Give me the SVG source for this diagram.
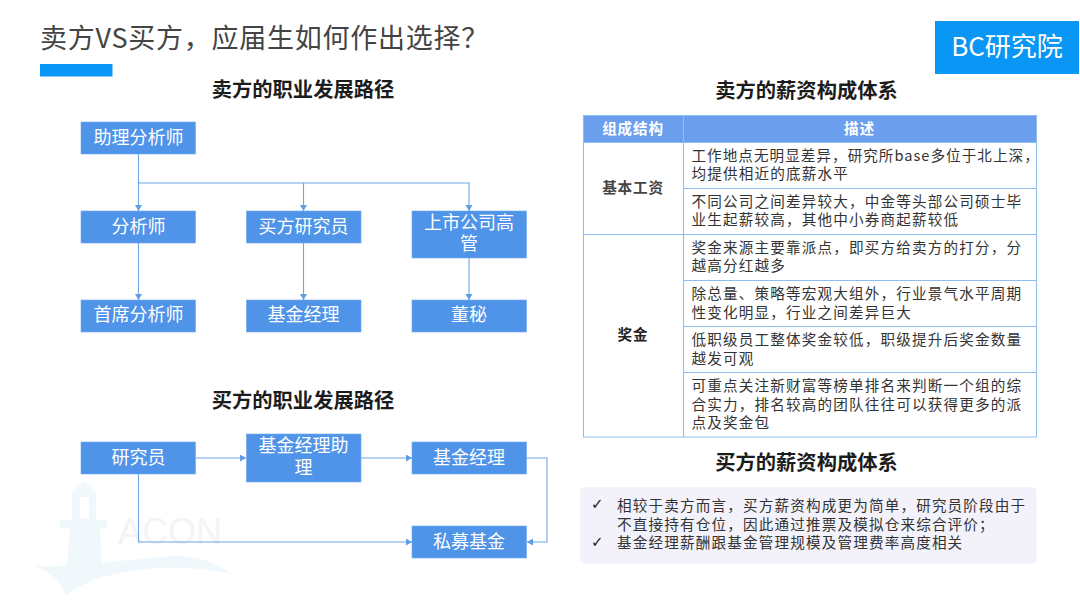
<svg xmlns="http://www.w3.org/2000/svg" width="1080" height="607" viewBox="0 0 1080 607">
<style>
text{font-family:"Noto Sans CJK SC","Noto Sans",sans-serif}
.box{fill:#4f94e8;stroke:#6fa8ea;stroke-width:.6}
.bt{font-size:18px;fill:#fff;text-anchor:middle}
.h{font-size:20.300px;font-weight:700;fill:#1c1c1c;text-anchor:middle}
.c{fill:none;stroke:#6fa6e4;stroke-width:1.1}
.t{font-size:14.6px;fill:#333;letter-spacing:1.15px}
.g{fill:none;stroke:#8fbdf0;stroke-width:1.1}
.s{font-size:14.6px;fill:#333;font-weight:700;text-anchor:middle;letter-spacing:.8px}
.wm{fill:#f1f8fc}
</style>
<defs><marker id="a" markerUnits="userSpaceOnUse" markerWidth="7" markerHeight="8" refX="6" refY="3.5" orient="auto"><path d="M0 0L6 3.5L0 7Z" fill="#5f9de4"/></marker></defs>
<rect width="1080" height="607" fill="#fff"/>
<g id="watermark">
<path class="wm" d="M35 566C90 567 150 556 178 556C200 556 220 565 232 574C195 566 160 566 120 573C95 578 78 585 66 596C62 582 50 572 35 566Z"/>
<path class="wm" d="M72 520V492L84 481L96 492V520H107V528H100L102 570H112V576H66L70 528H60V520ZM80 497V518H89V497Z"/>
<text x="118" y="544" font-size="36" fill="#f3f4f6" style="font-family:'Liberation Sans',sans-serif">ACON</text>
</g>
<g id="title">
<text x="40" y="48" font-size="27px" fill="#444" letter-spacing=".75">卖方VS买方，应届生如何作出选择？</text>
<rect x="40" y="64" width="72.500" height="12.500" fill="#0a96f5"/>
</g>
<g id="logo"><rect x="935" y="21" width="144" height="53" fill="#0a96f5"/><text x="1007" y="56" font-size="26px" fill="#fff" text-anchor="middle">BC研究院</text></g>
<text class="h" x="303" y="96.500">卖方的职业发展路径</text>
<text class="h" x="303" y="407.500">买方的职业发展路径</text>
<text class="h" x="806.500" y="97.500">卖方的薪资构成体系</text>
<text class="h" x="806.500" y="469.500">买方的薪资构成体系</text>
<g id="connectors">
<path class="c" d="M138.500 154V211" marker-end="url(#a)"/>
<path class="c" d="M138.500 183H303.500V211" marker-end="url(#a)"/>
<path class="c" d="M303.500 183H469V211" marker-end="url(#a)"/>
<path class="c" d="M138.500 243V300" marker-end="url(#a)"/>
<path class="c" d="M303.500 243V300" marker-end="url(#a)"/>
<path class="c" d="M469 258V300" marker-end="url(#a)"/>
<path class="c" d="M195.500 458H246" marker-end="url(#a)"/>
<path class="c" d="M361 458H412" marker-end="url(#a)"/>
<path class="c" d="M526 458H547V542H527" marker-end="url(#a)"/>
<path class="c" d="M138.500 474V542H412" marker-end="url(#a)"/>
</g>
<g id="n1"><rect class="box" x="81" y="122" width="114.500" height="32"/><text class="bt" x="138.500" y="144">助理分析师</text></g>
<g id="n2"><rect class="box" x="81" y="211" width="114.500" height="32"/><text class="bt" x="138.500" y="233">分析师</text></g>
<g id="n3"><rect class="box" x="246.500" y="211" width="114.500" height="32"/><text class="bt" x="303.500" y="233">买方研究员</text></g>
<g id="n4"><rect class="box" x="412" y="211" width="114.500" height="47"/><text class="bt" x="469" y="229">上市公司高</text><text class="bt" x="469" y="250">管</text></g>
<g id="n5"><rect class="box" x="81" y="300" width="114.500" height="32"/><text class="bt" x="138.500" y="321">首席分析师</text></g>
<g id="n6"><rect class="box" x="246.500" y="300" width="114.500" height="32"/><text class="bt" x="303.500" y="321">基金经理</text></g>
<g id="n7"><rect class="box" x="412" y="300" width="114.500" height="32"/><text class="bt" x="469" y="321">董秘</text></g>
<g id="n8"><rect class="box" x="81" y="442" width="114.500" height="32"/><text class="bt" x="138.500" y="464">研究员</text></g>
<g id="n9"><rect class="box" x="246.500" y="434" width="114.500" height="48"/><text class="bt" x="303.500" y="452">基金经理助</text><text class="bt" x="303.500" y="474">理</text></g>
<g id="n10"><rect class="box" x="412" y="442" width="114.500" height="32"/><text class="bt" x="469" y="464">基金经理</text></g>
<g id="n11"><rect class="box" x="412" y="526" width="114.500" height="32"/><text class="bt" x="469" y="548">私募基金</text></g>
<g id="table">
<rect x="583.500" y="115.500" width="453" height="27" fill="#6b9eec"/>
<path class="g" d="M583.500 115.500H1036.500V437H583.500ZM583.500 142.500H1036.500M683.500 115.500V437M683.500 188.500H1036.500M583.500 234.500H1036.500M683.500 280.500H1036.500M683.500 326.500H1036.500M683.500 372.500H1036.500"/>
<text class="s" x="633" y="134" style="fill:#fff">组成结构</text>
<text class="s" x="859.500" y="134" style="fill:#fff">描述</text>
<text class="s" x="633" y="193" style="fill:#444">基本工资</text>
<text class="s" x="633" y="340" style="fill:#222">奖金</text>
<text class="t" x="691.500" y="160.500" style="letter-spacing:1.02px">工作地点无明显差异，研究所base多位于北上深，</text>
<text class="t" x="691.500" y="179">均提供相近的底薪水平</text>
<text class="t" x="691.500" y="206.500">不同公司之间差异较大，中金等头部公司硕士毕</text>
<text class="t" x="691.500" y="225">业生起薪较高，其他中小券商起薪较低</text>
<text class="t" x="691.500" y="252.500">奖金来源主要靠派点，即买方给卖方的打分，分</text>
<text class="t" x="691.500" y="271">越高分红越多</text>
<text class="t" x="691.500" y="298.500">除总量、策略等宏观大组外，行业景气水平周期</text>
<text class="t" x="691.500" y="317.500">性变化明显，行业之间差异巨大</text>
<text class="t" x="691.500" y="344.500">低职级员工整体奖金较低，职级提升后奖金数量</text>
<text class="t" x="691.500" y="363.500">越发可观</text>
<text class="t" x="691.500" y="390.500">可重点关注新财富等榜单排名来判断一个组的综</text>
<text class="t" x="691.500" y="409.500">合实力，排名较高的团队往往可以获得更多的派</text>
<text class="t" x="691.500" y="428">点及奖金包</text>
</g>
<g id="panel">
<rect x="580" y="487" width="456.500" height="77" rx="5" fill="#f3f2fb"/>
<text x="591" y="509" font-size="15px" font-weight="700" fill="#222" style="font-family:'DejaVu Sans',sans-serif">✓</text>
<text class="t" x="617" y="510.500">相较于卖方而言，买方薪资构成更为简单，研究员阶段由于</text>
<text class="t" x="617" y="529.500">不直接持有仓位，因此通过推票及模拟仓来综合评价；</text>
<text x="591" y="547" font-size="15px" font-weight="700" fill="#222" style="font-family:'DejaVu Sans',sans-serif">✓</text>
<text class="t" x="617" y="548">基金经理薪酬跟基金管理规模及管理费率高度相关</text>
</g>
</svg>
